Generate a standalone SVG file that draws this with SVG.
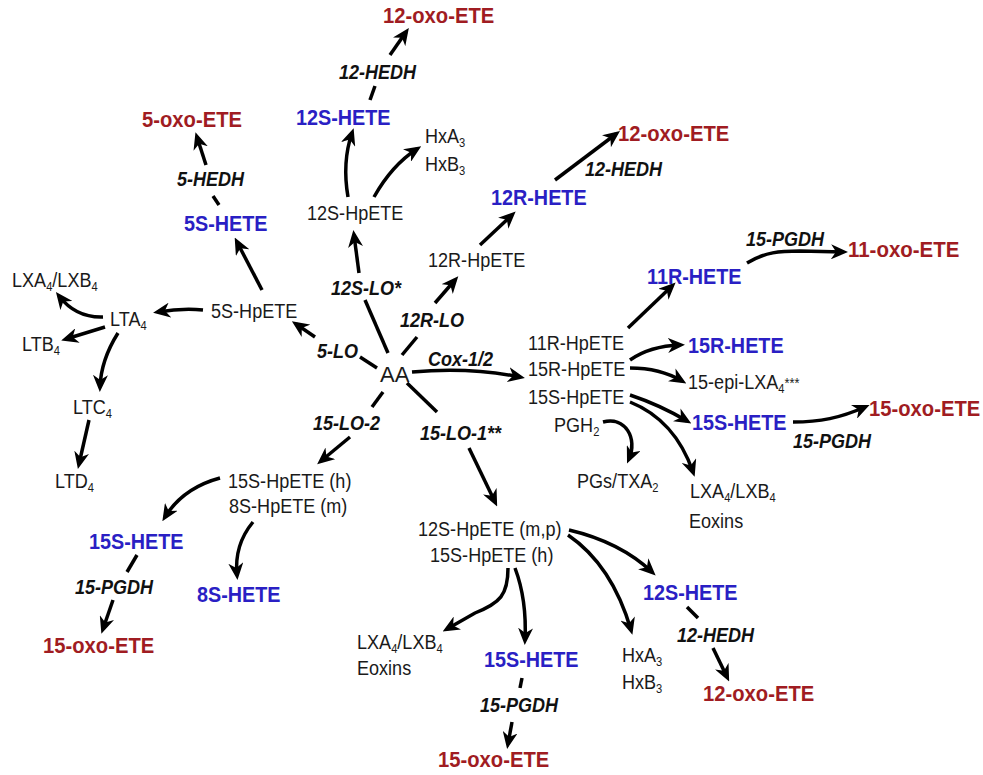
<svg xmlns="http://www.w3.org/2000/svg" width="983" height="775" viewBox="0 0 983 775">
<defs>
<marker id="ah" markerUnits="userSpaceOnUse" markerWidth="17" markerHeight="15" refX="12" refY="7.5" orient="auto" viewBox="0 0 17 15">
<path d="M0,0 L17,7.5 L0,15 L5,7.5 Z" fill="#000"/>
</marker>
<style>
text{font-family:"Liberation Sans",Arial,sans-serif}
.red{font-weight:bold;font-size:22px;fill:#a01c22}
.blue{font-weight:bold;font-size:22px;fill:#2a1fc4}
.blk{font-size:21px;fill:#1a1a1a}
.enz{font-weight:bold;font-style:italic;font-size:20px;fill:#111}
.sub{font-size:13px}
.c{fill:none;stroke:#000;stroke-width:3.5;marker-end:url(#ah)}
.l{fill:none;stroke:#000;stroke-width:3.5}
</style>
</defs>
<rect width="983" height="775" fill="#fff"/>

<g id="connectors">
<path class="l" d="M370,100 L375,86"/>
<path class="c" d="M390,55 L406,32"/>
<path class="c" d="M348,197 Q342,162 352,133"/>
<path class="c" d="M374,197 Q392,165 417,149"/>
<path class="c" d="M480,245 L512,215"/>
<path class="c" d="M555,180 L616,134"/>
<path class="l" d="M388,353 L365,300"/>
<path class="c" d="M359,273 L354,235"/>
<path class="l" d="M402,355 L417,337"/>
<path class="c" d="M435,303 L455,280"/>
<path class="l" d="M377,368 L360,357"/>
<path class="c" d="M315,337 L296,324"/>
<path class="c" d="M262,290 L237,242"/>
<path class="l" d="M213,196 L219,205"/>
<path class="c" d="M206,165 L197,137"/>
<path class="c" d="M203,310 Q182,308 158,312"/>
<path class="c" d="M103,317 Q76,318 59,296"/>
<path class="c" d="M105,327 L66,339"/>
<path class="c" d="M118,333 Q101,360 100,387"/>
<path class="c" d="M89,420 L79,464"/>
<path class="l" d="M383,392 L372,407"/>
<path class="c" d="M350,437 L321,461"/>
<path class="c" d="M220,478 Q183,488 165,517"/>
<path class="c" d="M253,522 Q234,545 237,575"/>
<path class="l" d="M137,555 L127,572"/>
<path class="c" d="M113,600 L103,629"/>
<path class="c" d="M412,372 Q470,367 520,377"/>
<path class="l" d="M407,383 L437,412"/>
<path class="c" d="M469,448 L495,502"/>
<path class="c" d="M628,328 L672,286"/>
<path class="c" d="M630,360 Q650,346 680,345"/>
<path class="c" d="M630,368 Q660,368 682,381"/>
<path class="c" d="M630,395 Q660,405 687,421"/>
<path class="c" d="M630,402 Q675,420 693,472"/>
<path class="c" d="M793,422 C820,422 840,418 865,407"/>
<path class="c" d="M747,263 C765,252 780,251 800,251 L843,252"/>
<path class="c" d="M603,422 C625,416 638,438 629,459"/>
<path class="c" d="M569,530 Q620,542 652,572"/>
<path class="c" d="M568,535 Q612,565 631,630"/>
<path class="c" d="M508,568 C508,595 500,603 475,613 L447,629"/>
<path class="c" d="M515,568 Q527,600 525,640"/>
<path class="l" d="M522,678 L520,688"/>
<path class="c" d="M512,722 L508,744"/>
<path class="l" d="M687,607 L698,618"/>
<path class="c" d="M713,648 L727,677"/>
</g>

<g id="n-oxo12-top"><text class="red" transform="translate(383,23) scale(0.92 1)">12-oxo-ETE</text></g>
<g id="n-oxo5"><text class="red" transform="translate(142,127) scale(0.92 1)">5-oxo-ETE</text></g>
<g id="n-oxo12-r"><text class="red" transform="translate(618,141) scale(0.92 1)">12-oxo-ETE</text></g>
<g id="n-oxo11"><text class="red" transform="translate(848,257) scale(0.93 1)">11-oxo-ETE</text></g>
<g id="n-oxo15-r"><text class="red" transform="translate(869,416) scale(0.92 1)">15-oxo-ETE</text></g>
<g id="n-oxo15-l"><text class="red" transform="translate(43,653) scale(0.92 1)">15-oxo-ETE</text></g>
<g id="n-oxo15-b"><text class="red" transform="translate(438,767) scale(0.92 1)">15-oxo-ETE</text></g>
<g id="n-oxo12-br"><text class="red" transform="translate(703,701) scale(0.92 1)">12-oxo-ETE</text></g>

<g id="n-h12S-top"><text class="blue" transform="translate(296,125) scale(0.9 1)">12S-HETE</text></g>
<g id="n-h5S"><text class="blue" transform="translate(184,231) scale(0.9 1)">5S-HETE</text></g>
<g id="n-h12R"><text class="blue" transform="translate(491,205) scale(0.9 1)">12R-HETE</text></g>
<g id="n-h11R"><text class="blue" transform="translate(647,284) scale(0.9 1)">11R-HETE</text></g>
<g id="n-h15R"><text class="blue" transform="translate(688,353) scale(0.9 1)">15R-HETE</text></g>
<g id="n-h15S-r"><text class="blue" transform="translate(692,430) scale(0.9 1)">15S-HETE</text></g>
<g id="n-h15S-l"><text class="blue" transform="translate(89,549) scale(0.9 1)">15S-HETE</text></g>
<g id="n-h8S"><text class="blue" transform="translate(197,602) scale(0.9 1)">8S-HETE</text></g>
<g id="n-h15S-b"><text class="blue" transform="translate(484,667) scale(0.9 1)">15S-HETE</text></g>
<g id="n-h12S-br"><text class="blue" transform="translate(643,600) scale(0.9 1)">12S-HETE</text></g>

<g id="n-12S-HpETE"><text class="blk" transform="translate(307,220) scale(0.86 1)">12S-HpETE</text></g>
<g id="n-HxA3-top">
<text class="blk" transform="translate(425,143) scale(0.86 1)">HxA<tspan class="sub" dy="4">3</tspan></text>
<text class="blk" transform="translate(425,171) scale(0.86 1)">HxB<tspan class="sub" dy="4">3</tspan></text>
</g>
<g id="n-12R-HpETE"><text class="blk" transform="translate(428,267) scale(0.86 1)">12R-HpETE</text></g>
<g id="n-5S-HpETE"><text class="blk" transform="translate(211,318) scale(0.86 1)">5S-HpETE</text></g>
<g id="n-LTA4"><text class="blk" transform="translate(110,326) scale(0.86 1)">LTA<tspan class="sub" dy="4">4</tspan></text></g>
<g id="n-LXA4-l"><text class="blk" transform="translate(12,287) scale(0.86 1)">LXA<tspan class="sub" dy="4">4</tspan><tspan dy="-4">/LXB</tspan><tspan class="sub" dy="4">4</tspan></text></g>
<g id="n-LTB4"><text class="blk" transform="translate(22,351) scale(0.86 1)">LTB<tspan class="sub" dy="4">4</tspan></text></g>
<g id="n-LTC4"><text class="blk" transform="translate(73,414) scale(0.86 1)">LTC<tspan class="sub" dy="4">4</tspan></text></g>
<g id="n-LTD4"><text class="blk" transform="translate(55,488) scale(0.86 1)">LTD<tspan class="sub" dy="4">4</tspan></text></g>
<g id="n-15LO2-prod">
<text class="blk" transform="translate(228,488) scale(0.86 1)">15S-HpETE (h)</text>
<text class="blk" transform="translate(229,513) scale(0.86 1)">8S-HpETE (m)</text>
</g>
<g id="n-AA"><text class="blk" transform="translate(380,382)" style="font-size:22px">AA</text></g>
<g id="n-cox-prod">
<text class="blk" transform="translate(528,350) scale(0.86 1)">11R-HpETE</text>
<text class="blk" transform="translate(528,376) scale(0.86 1)">15R-HpETE</text>
<text class="blk" transform="translate(528,404) scale(0.86 1)">15S-HpETE</text>
</g>
<g id="n-PGH2"><text class="blk" transform="translate(554,432) scale(0.86 1)">PGH<tspan class="sub" dy="4">2</tspan></text></g>
<g id="n-PGs"><text class="blk" transform="translate(577,488) scale(0.86 1)">PGs/TXA<tspan class="sub" dy="4">2</tspan></text></g>
<g id="n-15epi"><text class="blk" transform="translate(688,389) scale(0.86 1)">15-epi-LXA<tspan class="sub" dy="4">4</tspan><tspan style="font-size:15px" dy="-5">***</tspan></text></g>
<g id="n-LXA4-r">
<text class="blk" transform="translate(690,498) scale(0.86 1)">LXA<tspan class="sub" dy="4">4</tspan><tspan dy="-4">/LXB</tspan><tspan class="sub" dy="4">4</tspan></text>
<text class="blk" transform="translate(689,528) scale(0.86 1)">Eoxins</text>
</g>
<g id="n-15LO1-prod">
<text class="blk" transform="translate(418,536) scale(0.86 1)">12S-HpETE (m,p)</text>
<text class="blk" transform="translate(430,562) scale(0.86 1)">15S-HpETE (h)</text>
</g>
<g id="n-LXA4-b">
<text class="blk" transform="translate(357,649) scale(0.86 1)">LXA<tspan class="sub" dy="4">4</tspan><tspan dy="-4">/LXB</tspan><tspan class="sub" dy="4">4</tspan></text>
<text class="blk" transform="translate(357,675) scale(0.86 1)">Eoxins</text>
</g>
<g id="n-HxA3-b">
<text class="blk" transform="translate(622,662) scale(0.86 1)">HxA<tspan class="sub" dy="4">3</tspan></text>
<text class="blk" transform="translate(622,689) scale(0.86 1)">HxB<tspan class="sub" dy="4">3</tspan></text>
</g>

<g id="enzymes">
<text class="enz" transform="translate(339,79) scale(0.9 1)">12-HEDH</text>
<text class="enz" transform="translate(177,186) scale(0.9 1)">5-HEDH</text>
<text class="enz" transform="translate(585,176) scale(0.9 1)">12-HEDH</text>
<text class="enz" transform="translate(746,246) scale(0.9 1)">15-PGDH</text>
<text class="enz" transform="translate(331,295) scale(0.9 1)">12S-LO*</text>
<text class="enz" transform="translate(400,327) scale(0.9 1)">12R-LO</text>
<text class="enz" transform="translate(317,358) scale(0.9 1)">5-LO</text>
<text class="enz" transform="translate(428,366) scale(0.9 1)">Cox-1/2</text>
<text class="enz" transform="translate(313,430) scale(0.9 1)">15-LO-2</text>
<text class="enz" transform="translate(420,440) scale(0.9 1)">15-LO-1**</text>
<text class="enz" transform="translate(793,448) scale(0.9 1)">15-PGDH</text>
<text class="enz" transform="translate(75,594) scale(0.9 1)">15-PGDH</text>
<text class="enz" transform="translate(480,712) scale(0.9 1)">15-PGDH</text>
<text class="enz" transform="translate(677,642) scale(0.9 1)">12-HEDH</text>
</g>
</svg>
